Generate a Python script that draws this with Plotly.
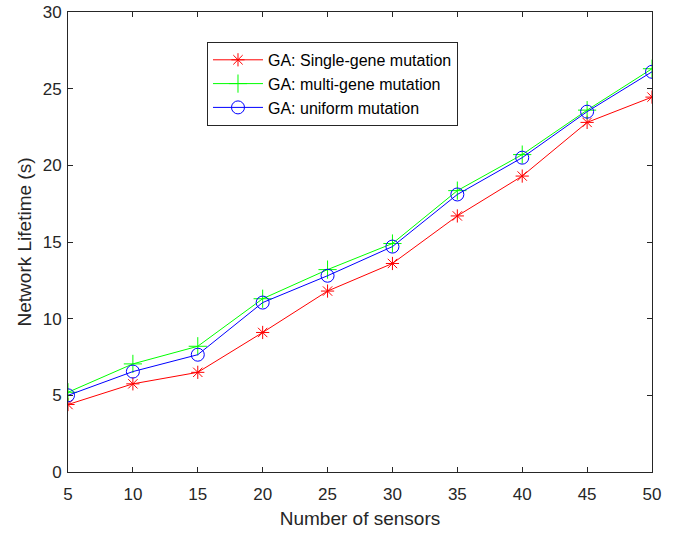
import plotly.graph_objects as go

sensors = [5, 10, 15, 20, 25, 30, 35, 40, 45, 50]
single_gene = [4.4, 5.75, 6.5, 9.1, 11.8, 13.6, 16.7, 19.3, 22.8, 24.45]
multi_gene = [5.2, 7.05, 8.2, 11.3, 13.2, 14.9, 18.35, 20.7, 23.6, 26.3]
uniform = [5.0, 6.55, 7.65, 11.05, 12.8, 14.7, 18.1, 20.5, 23.5, 26.1]

names = ["GA: Single-gene mutation", "GA: multi-gene mutation", "GA: uniform mutation"]
colors = ["#FF0000", "#00FF00", "#0000FF"]
symbols = ["asterisk-open", "cross-thin-open", "circle-open"]
sizes = [11, 13, 13]
series = [single_gene, multi_gene, uniform]

fig = go.Figure()
for name, vals, c, s, sz in zip(names, series, colors, symbols, sizes):
    fig.add_trace(go.Scatter(
        x=sensors, y=vals, name=name, mode="lines+markers",
        line=dict(color=c, width=1),
        marker=dict(symbol=s, size=sz, color=c, line=dict(color=c, width=1)),
    ))

axis_common = dict(
    showline=True, linecolor="#262626", linewidth=1, mirror="ticks",
    ticks="inside", ticklen=5, tickcolor="#262626", showgrid=False,
    zeroline=False, automargin=False,
    tickfont=dict(family="Liberation Sans, Arial", size=17, color="#262626"),
)

fig.update_layout(
    width=676, height=533,
    margin=dict(l=68, r=24, t=12, b=61),
    paper_bgcolor="white", plot_bgcolor="white",
    font=dict(family="Liberation Sans, Arial", color="#262626"),
    xaxis=dict(range=[5, 50], tickvals=sensors, ticklabelstandoff=7, **axis_common,
               title=dict(text="Number of sensors", font=dict(size=19), standoff=8)),
    yaxis=dict(range=[0, 30], tickvals=[0, 5, 10, 15, 20, 25, 30], ticklabelstandoff=2,
               **axis_common,
               title=dict(text="Network Lifetime (s)", font=dict(size=19), standoff=6)),
    legend=dict(x=0.238, y=0.935, xanchor="left", yanchor="top",
                bordercolor="#262626", borderwidth=1, bgcolor="white",
                font=dict(size=16, color="#000000"), tracegroupgap=0,
                itemwidth=50),
    showlegend=True,
)

fig.write_html("out.html")
